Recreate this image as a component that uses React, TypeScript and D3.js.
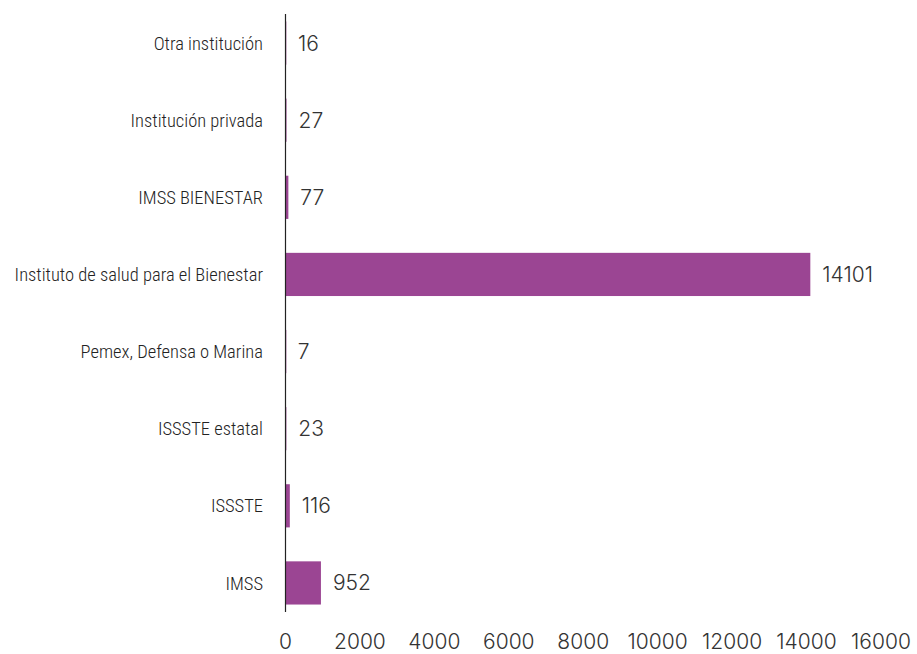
// Horizontal bar chart of attentions by institution, drawn with d3 scales.

import * as d3 from "d3";

const categories = [
  "Otra institución",
  "Institución privada",
  "IMSS BIENESTAR",
  "Instituto de salud para el Bienestar",
  "Pemex, Defensa o Marina",
  "ISSSTE estatal",
  "ISSSTE",
  "IMSS",
];
const values = [16, 27, 77, 14101, 7, 23, 116, 952];
const xTicks = [0, 2000, 4000, 6000, 8000, 10000, 12000, 14000, 16000];

export default function App() {
  const width = 917;
  const height = 654;
  const left = 285.5;
  const right = 881;

  const scaleX = d3.scaleLinear([0, 16000], [left, right]);
  const scaleY = d3
    .scaleBand(categories, [4.5, 621.5])
    .paddingInner(0.44)
    .paddingOuter(0.22);

  const labelFont = "'Liberation Sans Narrow', 'Roboto Condensed', 'DejaVu Sans Condensed', sans-serif";
  const numFont = "Inter, Roboto, 'Noto Sans', sans-serif";

  return (
    <svg
      width={width}
      height={height}
      style={{ position: "absolute", left: 0, top: 0, background: "#fff" }}
    >
      <title>Bar chart</title>
      <g fill="#9b4593">
        {categories.map((c, i) => (
          <rect
            key={c}
            x={scaleX(0)}
            y={scaleY(c)}
            width={Math.max(scaleX(values[i]) - scaleX(0), 0.8)}
            height={scaleY.bandwidth()}
          />
        ))}
      </g>
      <line x1={left} x2={left} y1={14} y2={612} stroke="#222" strokeWidth={1.2} />
      <g fill="#222" fontFamily={labelFont} fontSize={18.5} fontWeight={300} textAnchor="end">
        {categories.map((c) => (
          <text key={c} x={263} y={scaleY(c)! + scaleY.bandwidth() / 2} dy="0.36em">
            {c}
          </text>
        ))}
      </g>
      <g fill="#333" fontFamily={numFont} fontSize={21} fontWeight={300}>
        {categories.map((c, i) => (
          <text
            key={c}
            x={scaleX(values[i]) + 12}
            y={scaleY(c)! + scaleY.bandwidth() / 2}
            dy="0.36em"
          >
            {values[i]}
          </text>
        ))}
      </g>
      <g fill="#333" fontFamily={numFont} fontSize={21} fontWeight={300} textAnchor="middle">
        {xTicks.map((t) => (
          <text key={t} x={scaleX(t)} y={641} dy="0.36em">
            {t}
          </text>
        ))}
      </g>
    </svg>
  );
}
